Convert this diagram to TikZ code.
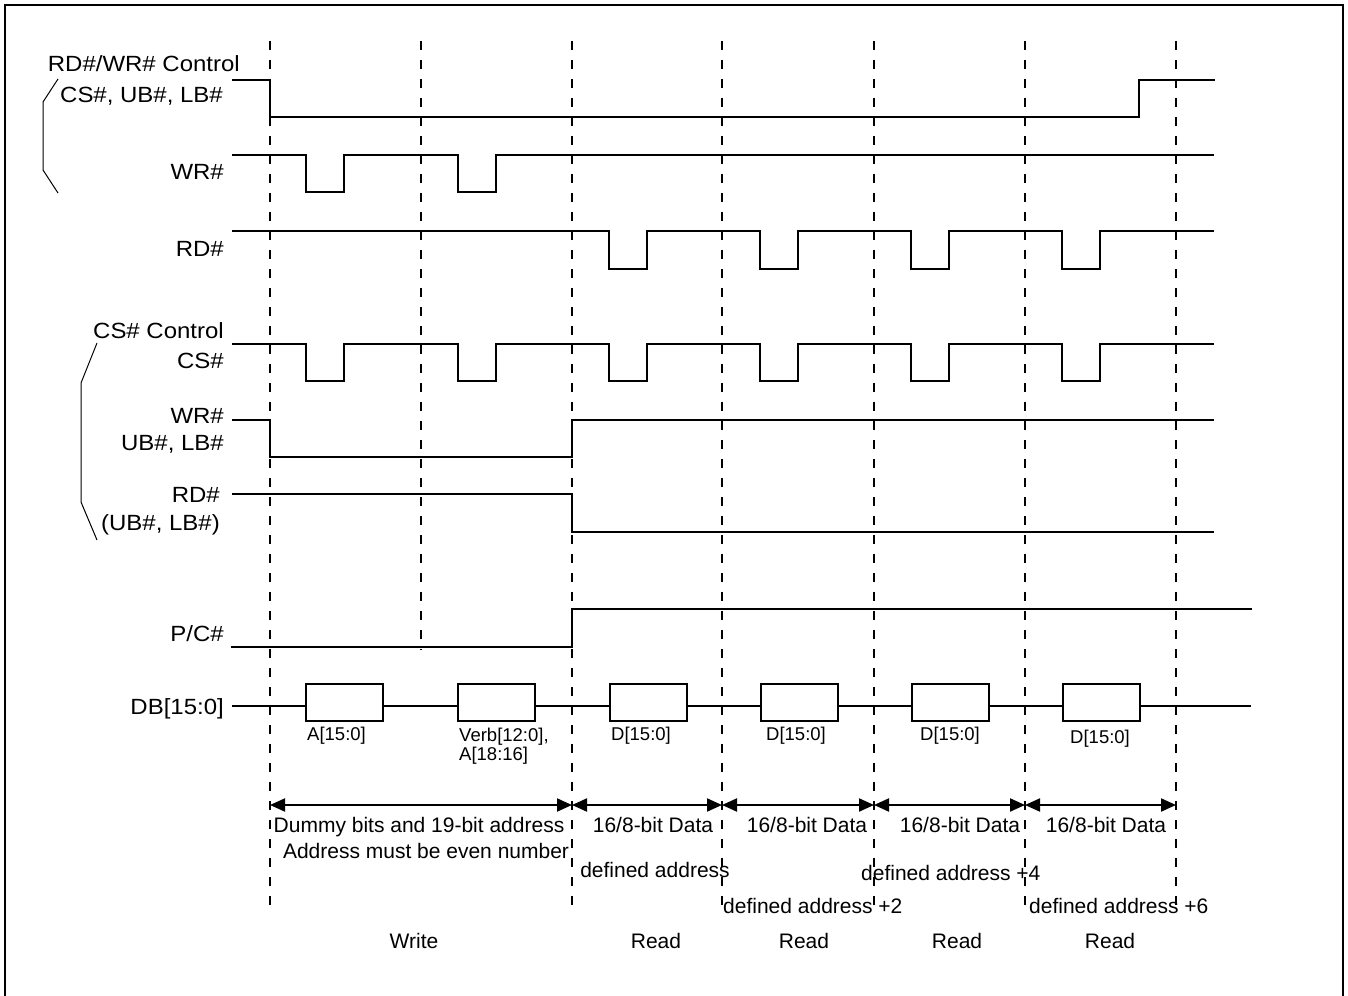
\documentclass[tikz,border=0pt]{standalone}
\usepackage{fontspec}
\setmainfont{Liberation Sans}
\newfontfamily\lblfont{Liberation Sans}[FakeStretch=1.09]
\usetikzlibrary{arrows.meta}
\begin{document}
\begin{tikzpicture}[x=1pt,y=-1pt,
  sig/.style={line width=2pt, line join=miter},
  gridline/.style={line width=2pt, dash pattern=on 9pt off 10pt},
  lbl/.style={font=\lblfont\fontsize{22}{26}\selectfont, inner sep=0pt, anchor=base east},
  btxt/.style={font=\fontsize{21}{25}\selectfont, inner sep=0pt, anchor=base},
  btxtl/.style={font=\fontsize{21}{25}\selectfont, inner sep=0pt, anchor=base west},
  stxt/.style={font=\fontsize{18.5}{22}\selectfont, inner sep=0pt, anchor=base west},
  dbox/.style={draw, line width=2pt, fill=white, minimum width=77pt, minimum height=37pt, inner sep=0pt},
  span/.style={line width=2pt, {Triangle[length=15pt,width=13pt]}-{Triangle[length=15pt,width=13pt]}},
  brk/.style={line width=1pt}]
\useasboundingbox (0,0) rectangle (1348,995);
% frame
\draw[line width=2pt] (5,1000) -- (5,5) -- (1343,5) -- (1343,1000);
% dashed time lines
\foreach \n/\x/\yb in {1/270/910, 2/421/650, 3/572/910, 4/722/910, 5/874/910, 6/1025/910, 7/1176/910}{
  \coordinate (g\n top) at (\x,41);
  \coordinate (g\n bot) at (\x,\yb);
  \draw[gridline] (g\n top) -- (g\n bot);
}
% labels
\node[lbl] (lrwc) at (240,72) {RD\#/WR\# Control};
\node[lbl] (lcsub) at (223,103) {CS\#, UB\#, LB\#};
\node[lbl] (lwr1) at (224,179) {WR\#};
\node[lbl] (lrd1) at (224,256) {RD\#};
\node[lbl] (lcsc) at (224,338) {CS\# Control};
\node[lbl] (lcs) at (224,368) {CS\#};
\node[lbl] (lwr2) at (224,423) {WR\#};
\node[lbl] (lub) at (224,450) {UB\#, LB\#};
\node[lbl] (lrd2) at (220,502) {RD\#};
\node[lbl] (lub2) at (220,530) {(UB\#, LB\#)};
\node[lbl] (lpc) at (224,641) {P/C\#};
\node[lbl] (ldb) at (224,714) {DB[15:0]};
% brackets
\draw[brk] (58,79) -- (43,102) -- (43,170) -- (58,193);
\draw[brk] (97,343) -- (81,383) -- (81,502) -- (97,540);
% waveforms
\draw[sig] (232,80) -- (270,80) -- (270,117) -- (1139,117) -- (1139,80) -- (1215,80);
\draw[sig] (232,155) -- (306,155) -- (306,192) -- (344,192) -- (344,155) -- (458,155) -- (458,192) -- (496,192) -- (496,155) -- (1214,155);
\draw[sig] (232,231) -- (609,231) -- (609,269) -- (647,269) -- (647,231) -- (760,231) -- (760,269) -- (798,269) -- (798,231) -- (911,231) -- (911,269) -- (949,269) -- (949,231) -- (1062,231) -- (1062,269) -- (1100,269) -- (1100,231) -- (1214,231);
\draw[sig] (232,344) -- (306,344) -- (306,381) -- (344,381) -- (344,344) -- (458,344) -- (458,381) -- (496,381) -- (496,344)
  -- (609,344) -- (609,381) -- (647,381) -- (647,344) -- (760,344) -- (760,381) -- (798,381) -- (798,344) -- (911,344) -- (911,381) -- (949,381) -- (949,344) -- (1062,344) -- (1062,381) -- (1100,381) -- (1100,344) -- (1214,344);
\draw[sig] (232,420) -- (270,420) -- (270,457) -- (572,457) -- (572,420) -- (1214,420);
\draw[sig] (232,494) -- (572,494) -- (572,532) -- (1214,532);
\draw[sig] (231,647) -- (572,647) -- (572,609) -- (1252,609);
% data bus
\coordinate (dbs) at (232,706);
\coordinate (dbe) at (1251,706);
\draw[sig] (dbs) -- (dbe);
\node[dbox] (b1) at (344.5,702.5) {};
\node[dbox] (b2) at (496,702.5) {};
\node[dbox] (b3) at (648,702.5) {};
\node[dbox] (b4) at (799,702.5) {};
\node[dbox] (b5) at (950,702.5) {};
\node[dbox] (b6) at (1101,702.5) {};
\node[stxt] (t1) at (307,740) {A[15:0]};
\node[stxt] (t2a) at (459,741) {Verb[12:0],};
\node[stxt] (t2b) at (459,760) {A[18:16]};
\node[stxt] (t3) at (611,740) {D[15:0]};
\node[stxt] (t4) at (766,740) {D[15:0]};
\node[stxt] (t5) at (920,740) {D[15:0]};
\node[stxt] (t6) at (1070,743) {D[15:0]};
% spans
\foreach \n/\x in {1/270, 3/572, 4/722, 5/874, 6/1025, 7/1176}{
  \coordinate (a\n) at (\x,805);
}
\draw[span] (a1) -- (a3);
\draw[span] (a3) -- (a4);
\draw[span] (a4) -- (a5);
\draw[span] (a5) -- (a6);
\draw[span] (a6) -- (a7);
% bottom texts
\node[btxt] (d1) at (419,832) {Dummy bits and 19-bit address};
\node[btxt] (d2) at (426,858) {Address must be even number};
\node[btxt] (d3) at (653,832) {16/8-bit Data};
\node[btxt] (d4) at (807,832) {16/8-bit Data};
\node[btxt] (d5) at (960,832) {16/8-bit Data};
\node[btxt] (d6) at (1106,832) {16/8-bit Data};
\node[btxt] (e1) at (655,877) {defined address};
\node[btxtl] (e2) at (861,880) {defined address +4};
\node[btxtl] (e3) at (723,913) {defined address +2};
\node[btxtl] (e4) at (1029,913) {defined address +6};
\node[btxt] (w1) at (414,948) {Write};
\node[btxt] (r1) at (656,948) {Read};
\node[btxt] (r2) at (804,948) {Read};
\node[btxt] (r3) at (957,948) {Read};
\node[btxt] (r4) at (1110,948) {Read};
\end{tikzpicture}
\end{document}
